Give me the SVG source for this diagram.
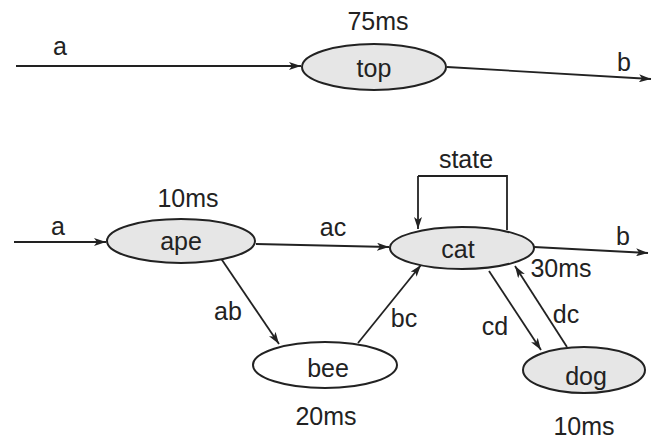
<svg xmlns="http://www.w3.org/2000/svg" width="656" height="441" viewBox="0 0 656 441">
<defs>
<marker id="ah" viewBox="0 0 12 8" refX="12" refY="4" markerWidth="12" markerHeight="8" markerUnits="userSpaceOnUse" orient="auto">
<path d="M0,0 L12,4 L0,8 L3,4 Z" fill="#222"/>
</marker>
</defs>
<style>
.n{stroke:#222;stroke-width:2}
.g{fill:#e6e6e6}
.w{fill:#fff}
.e{fill:none;stroke:#222;stroke-width:1.8;marker-end:url(#ah)}
.l{fill:none;stroke:#222;stroke-width:1.8}
text{font-family:"Liberation Sans",Arial,sans-serif;font-size:25px;fill:#222;text-anchor:middle}
</style>
<rect width="656" height="441" fill="#fff"/>
<g id="edges">
<line class="e" x1="16" y1="66" x2="301" y2="66"/>
<text x="60" y="55">a</text>
<path class="e" d="M447,67 L651,79"/>
<text x="624" y="71">b</text>
<line class="e" x1="14" y1="242" x2="106" y2="242"/>
<text x="58" y="235">a</text>
<line class="e" x1="256" y1="244" x2="389" y2="247"/>
<text x="333" y="236">ac</text>
<path class="l" d="M507,230 L507,176 L418,176"/>
<path class="e" d="M418,176 L418,229"/>
<text x="466" y="168">state</text>
<line class="e" x1="534" y1="247" x2="648" y2="253"/>
<text x="623" y="245">b</text>
<line class="e" x1="220" y1="257" x2="279" y2="344"/>
<text x="228" y="320">ab</text>
<line class="e" x1="358" y1="343" x2="421" y2="265"/>
<text x="404" y="327">bc</text>
<line class="e" x1="489" y1="271" x2="541" y2="350"/>
<text x="495" y="335">cd</text>
<line class="e" x1="567" y1="347" x2="515" y2="266"/>
<text x="566" y="323">dc</text>
</g>
<g id="top">
<ellipse class="n g" cx="374" cy="67" rx="72" ry="23"/>
<text x="374" y="77">top</text>
<text x="378" y="30">75ms</text>
</g>
<g id="ape">
<ellipse class="n g" cx="181" cy="241" rx="74" ry="22"/>
<text x="181" y="250">ape</text>
<text x="188" y="207">10ms</text>
</g>
<g id="cat">
<ellipse class="n g" cx="462" cy="248" rx="72" ry="21"/>
<text x="458" y="258">cat</text>
<text x="561" y="277">30ms</text>
</g>
<g id="bee">
<ellipse class="n w" cx="325" cy="365" rx="72" ry="23"/>
<text x="328" y="377">bee</text>
<text x="326" y="425">20ms</text>
</g>
<g id="dog">
<ellipse class="n g" cx="584" cy="370" rx="61" ry="23"/>
<text x="586" y="385">dog</text>
<text x="584" y="435">10ms</text>
</g>
</svg>
